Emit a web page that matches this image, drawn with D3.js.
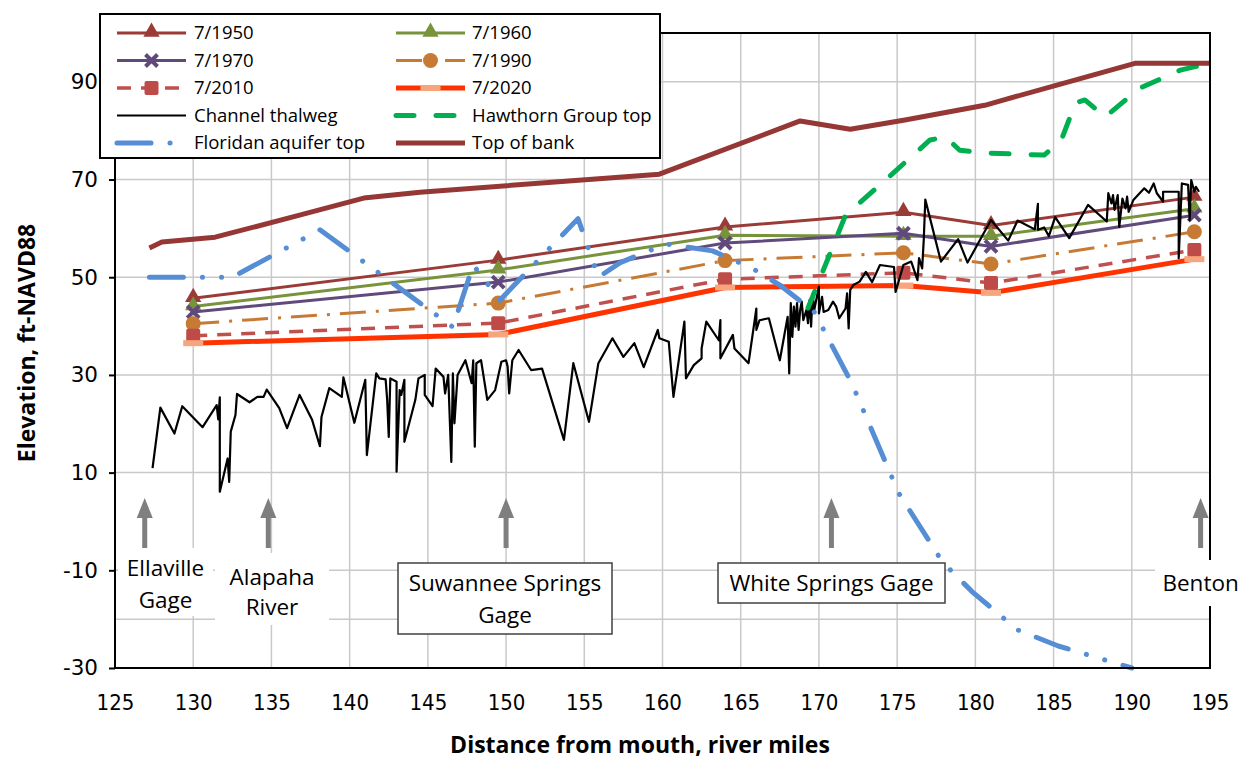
<!DOCTYPE html>
<meta charset="utf-8">
<style>
    body { margin: 0; background: #fff; }
    svg { display: block; }
    .grid line { stroke: #c9c9c9; stroke-width: 1.5; }
    .axis path, .axis line { stroke: #000; stroke-width: 2; }
    .y.axis text { font: 21.5px "DejaVu Sans", sans-serif; fill: #000; }
    .x.axis text { font: 22px "Liberation Sans Narrow", "DejaVu Sans Condensed", sans-serif; fill: #000; }
    .title { font: bold 23px "Open Sans", sans-serif; fill: #000; }
    .legend text { font: 18.5px "Open Sans", sans-serif; fill: #000; }
    .note text { font: 22.5px "Open Sans", sans-serif; fill: #000; }
</style>
<body>
<svg id="chart" width="1242" height="763"></svg>
<script src="https://cdn.jsdelivr.net/npm/d3@7/dist/d3.min.js"></script>
<script>
    // survey years share the same stations (river miles)
    var stationMiles = [130, 149.5, 164, 175.4, 181, 194];
    var elev1950 = [45.7, 53.5, 60.3, 63.3, 60.6, 66.4];
    var elev1960 = [44.0, 51.5, 58.6, 58.4, 58.4, 64.0];
    var elev1970 = [42.9, 49.0, 57.0, 59.0, 56.3, 62.7];
    var elev1990 = [40.5, 44.7, 53.4, 55.0, 52.7, 59.3];
    var elev2010 = [38.0, 40.6, 49.6, 50.9, 48.8, 55.6];
    var elev2020 = [36.5, 38.3, 47.9, 48.3, 46.8, 53.7];

    var thalwegMiles = [127.4, 127.9, 128.8, 129.3, 130.6, 131.5, 131.6, 131.7, 131.7, 132.2, 132.3, 132.4, 132.7, 132.8,
        133.6, 134.1, 134.5, 134.7, 135.5, 136.0, 136.8, 137.6, 138.1, 138.2, 138.7, 139.5, 139.6, 140.3, 141.0, 141.1,
        141.7, 141.9, 142.3, 142.4, 142.5, 142.6, 143.0, 143.0, 143.2, 143.3, 143.5, 143.5, 144.2, 144.4, 144.8, 144.8,
        145.3, 145.5, 146.0, 146.1, 146.3, 146.5, 146.6, 146.7, 146.9, 147.4, 147.8, 147.9, 148.0, 148.1, 148.4, 148.8,
        149.3, 149.7, 150.0, 150.1, 150.2, 150.4, 150.8, 151.6, 152.3, 153.7, 154.3, 155.3, 155.9, 156.8, 157.5, 158.2,
        158.8, 159.7, 159.8, 160.4, 160.7, 161.4, 161.5, 162.0, 162.5, 162.5, 162.8, 163.6, 163.7, 163.7, 164.5, 164.6,
        165.5, 166.0, 166.0, 166.2, 166.8, 167.5, 168.0, 168.1, 168.2, 168.3, 168.4, 168.5, 168.6, 168.7, 168.8, 168.9,
        169.0, 169.2, 169.3, 169.4, 169.5, 169.6, 169.7, 170.0, 170.0, 170.2, 170.3, 170.6, 170.9, 171.1, 171.3, 171.7,
        171.8, 171.9, 172.0, 172.2, 172.6, 173.0, 173.4, 173.9, 174.8, 174.9, 175.4, 175.9, 176.3, 176.4, 176.6, 176.7,
        176.8, 177.1, 177.8, 178.9, 179.5, 181.0, 182.1, 182.7, 183.8, 184.0, 184.0, 184.4, 184.7, 185.1, 186.0, 187.2,
        188.4, 188.5, 188.7, 188.8, 188.9, 189.1, 189.2, 189.4, 189.6, 189.7, 189.8, 190.1, 190.8, 191.1, 191.4, 191.6,
        192.0, 192.0, 193.0, 193.0, 193.2, 193.6, 193.7, 193.8, 194.0, 194.1, 194.3];
    var thalwegElev = [10.9, 23.3, 18.0, 23.6, 19.3, 23.8, 20.9, 25.4, 6.1, 12.9, 8.1, 18.4, 21.8, 26.1,
        24.4, 25.5, 25.5, 27.0, 23.2, 19.1, 25.9, 20.8, 15.4, 21.4, 27.3, 25.5, 29.5, 20.2, 29.0, 13.6,
        30.3, 29.3, 29.1, 24.9, 17.3, 29.3, 28.6, 10.2, 26.9, 25.9, 29.0, 16.3, 24.9, 29.3, 30.0, 25.9,
        23.6, 31.3, 29.6, 26.2, 30.0, 12.2, 30.3, 20.1, 30.0, 33.0, 28.3, 33.0, 15.3, 32.4, 33.0, 24.9,
        26.9, 32.7, 33.0, 31.7, 26.2, 33.0, 35.1, 31.0, 31.3, 16.7, 32.4, 20.4, 32.4, 37.5, 33.7, 36.5,
        31.6, 39.2, 37.5, 36.8, 25.5, 40.9, 29.3, 32.0, 33.4, 35.4, 40.9, 37.1, 41.2, 33.4, 38.2, 35.4,
        32.4, 43.6, 39.2, 41.2, 41.6, 33.0, 41.9, 30.3, 44.7, 37.8, 44.0, 39.9, 44.7, 39.2, 43.3, 45.0,
        41.2, 43.3, 40.6, 45.3, 39.9, 46.7, 43.3, 48.1, 42.6, 46.0, 42.9, 43.3, 45.0, 44.0, 41.6, 43.6,
        46.7, 39.5, 47.4, 48.4, 49.1, 51.1, 49.0, 52.5, 52.1, 47.0, 52.5, 53.2, 49.4, 53.9, 51.8, 57.6,
        65.9, 62.1, 53.2, 57.8, 53.0, 61.7, 57.5, 61.6, 59.8, 65.0, 59.7, 60.2, 58.4, 62.3, 58.0, 64.8,
        61.4, 67.2, 65.1, 66.8, 63.8, 66.8, 60.3, 66.1, 64.1, 66.5, 63.4, 65.8, 68.2, 67.3, 69.2, 67.2,
        65.5, 67.5, 67.5, 53.9, 69.2, 68.9, 61.7, 69.9, 67.5, 68.5, 67.5];

    var hawthornMiles = [169.3, 171.7, 173.9, 177.1, 178.1, 179.0, 180.9, 184.4, 185.5, 186.4, 187.0, 188.3, 190.5, 193.1, 195];
    var hawthornElev = [43.7, 62.7, 68.9, 78.1, 78.7, 76.0, 75.4, 75.0, 78.1, 85.7, 86.3, 82.8, 88.7, 92.4, 93.8];

    var floridanMiles = [127.2, 132.5, 138.1, 146.6, 147.9, 149.6, 154.6, 155.9, 157.3, 160.2, 163.2, 165.7, 167.5,
        169.7, 172.1, 175.1, 177.9, 179.8, 182.7, 185.3, 190.0];
    var floridanElev = [50.0, 50.0, 59.7, 39.8, 52.5, 45.3, 62.0, 50.0, 53.0, 56.8, 55.4, 51.9, 48.4,
        42.9, 28.3, 5.8, -8.3, -14.4, -22.2, -25.5, -30.0];

    var bankMiles = [127.2, 128.0, 131.4, 136.8, 140.9, 144.5, 159.8, 168.8, 172.0, 175.5, 180.6, 185.5, 190.2, 195];
    var bankElev = [56.0, 57.2, 58.2, 62.7, 66.2, 67.4, 71.1, 82.0, 80.3, 82.2, 85.2, 89.6, 93.8, 93.8];

    var xTicks = d3.range(125, 196, 5);
    var yTicks = [-30, -10, 10, 30, 50, 70, 90];
    var yGrid = [-20, -10, 10, 30, 50, 70, 90];

    var siteNames = [["Ellaville", "Gage"], ["Alapaha", "River"], ["Suwannee Springs", "Gage"], ["White Springs Gage"], ["Benton"]];
    var siteMiles = [126.9, 134.8, 150.0, 170.8, 194.4];

    var pairs = function (a, b) { return d3.zip(a, b); };

    // series table, legend order
    var series = [
        {name: "7/1950", data: pairs(stationMiles, elev1950), color: "#9a3b38", width: 3, marker: "tri"},
        {name: "7/1960", data: pairs(stationMiles, elev1960), color: "#77933c", width: 3, marker: "tri"},
        {name: "7/1970", data: pairs(stationMiles, elev1970), color: "#604a7b", width: 3, marker: "x"},
        {name: "7/1990", data: pairs(stationMiles, elev1990), color: "#c77a34", width: 3, dash: "26 10 3 10", marker: "circle"},
        {name: "7/2010", data: pairs(stationMiles, elev2010), color: "#c0504d", width: 3.5, dash: "14 10", marker: "square"},
        {name: "7/2020", data: pairs(stationMiles, elev2020), color: "#ff3300", width: 5, marker: "bar"},
        {name: "Channel thalweg", data: pairs(thalwegMiles, thalwegElev), color: "#000", width: 2.2},
        {name: "Hawthorn Group top", data: pairs(hawthornMiles, hawthornElev), color: "#00b050", width: 5, dash: "18 22", cap: "round"},
        {name: "Floridan aquifer top", data: pairs(floridanMiles, floridanElev), color: "#558ed5", width: 5, dash: "34 19 0.1 19 0.1 19", cap: "round"},
        {name: "Top of bank", data: pairs(bankMiles, bankElev), color: "#953735", width: 5}
    ];

    var plotL = 115, plotR = 1210, plotT = 33, plotB = 668;

    var x = d3.scaleLinear().domain([125, 195]).range([plotL, plotR]);
    var y = d3.scaleLinear().domain([-30, 100]).range([plotB, plotT]);

    var svg = d3.select("#chart");

    var grid = svg.append("g").attr("class", "grid");
    grid.selectAll("line.v").data(xTicks).enter().append("line")
        .attr("x1", x).attr("x2", x).attr("y1", plotT).attr("y2", plotB);
    grid.selectAll("line.h").data(yGrid).enter().append("line")
        .attr("x1", plotL).attr("x2", plotR).attr("y1", y).attr("y2", y);

    var line = d3.line().x(function (d) { return x(d[0]); }).y(function (d) { return y(d[1]); });

    function drawMarker(g, type, color, cx, cy) {
        if (type === "tri") {
            g.append("path").attr("d", d3.symbol().type(d3.symbolTriangle).size(115)())
                .attr("transform", "translate(" + cx + "," + (cy - 1) + ")").attr("fill", color);
        } else if (type === "x") {
            g.append("path").attr("d", "M-6,-6L6,6M-6,6L6,-6")
                .attr("transform", "translate(" + cx + "," + cy + ")")
                .attr("stroke", color).attr("stroke-width", 4).attr("fill", "none");
        } else if (type === "circle") {
            g.append("circle").attr("cx", cx).attr("cy", cy).attr("r", 7.5).attr("fill", color);
        } else if (type === "square") {
            g.append("rect").attr("x", cx - 7).attr("y", cy - 7).attr("width", 14).attr("height", 14)
                .attr("rx", 2).attr("fill", "#be4b48");
        } else if (type === "bar") {
            g.append("rect").attr("x", cx - 10).attr("y", cy - 3).attr("width", 20).attr("height", 6)
                .attr("fill", "#f7a57c");
        }
    }

    var plot = svg.append("g").attr("class", "series");
    series.forEach(function (s) {
        plot.append("path").datum(s.data)
            .attr("d", line)
            .attr("fill", "none")
            .attr("stroke", s.color)
            .attr("stroke-width", s.width)
            .attr("stroke-linejoin", "round")
            .attr("stroke-linecap", s.cap || "butt")
            .attr("stroke-dasharray", s.dash || null);
        if (s.marker) {
            var mg = plot.append("g");
            s.data.forEach(function (d) { drawMarker(mg, s.marker, s.color, x(d[0]), y(d[1])); });
        }
    });

    // plot border
    svg.append("rect").attr("x", plotL).attr("y", plotT).attr("width", plotR - plotL).attr("height", plotB - plotT)
        .attr("fill", "none").attr("stroke", "#000").attr("stroke-width", 2);

    // plain hyphen for negatives, as in the original
    svg.append("g").attr("class", "y axis")
        .attr("transform", "translate(" + plotL + ",0)")
        .call(d3.axisLeft(y).tickValues(yTicks).tickSize(6).tickPadding(11).tickFormat(function (d) { return String(d); }))
        .call(function (g) { g.select(".domain").remove(); });

    svg.append("g").attr("class", "x axis")
        .attr("transform", "translate(0," + plotB + ")")
        .call(d3.axisBottom(x).tickValues(xTicks).tickSize(0).tickPadding(26))
        .call(function (g) { g.select(".domain").remove(); });

    // site arrows and labels
    var notes = svg.append("g").attr("class", "note");
    siteMiles.forEach(function (m, i) {
        var cx = x(m);
        notes.append("rect").attr("x", cx - 2.5).attr("y", 514).attr("width", 5).attr("height", 34).attr("fill", "#7f7f7f");
        notes.append("path").attr("d", "M" + (cx - 8) + ",518L" + cx + ",498L" + (cx + 8) + ",518Z").attr("fill", "#7f7f7f");
    });
    var boxes = [
        {x0: 118, x1: 213, y0: 548, y1: 616, border: false, ty: [568, 600]},
        {x0: 215, x1: 329, y0: 553, y1: 625, border: false, ty: [577, 607]},
        {x0: 398, x1: 612, y0: 563, y1: 634, border: true, ty: [583, 615]},
        {x0: 718, x1: 945, y0: 563, y1: 603, border: true, ty: [583]},
        {x0: 1155, x1: 1242, y0: 560, y1: 606, border: false, ty: [583]}
    ];
    boxes.forEach(function (b, i) {
        notes.append("rect").attr("x", b.x0).attr("y", b.y0).attr("width", b.x1 - b.x0).attr("height", b.y1 - b.y0)
            .attr("fill", "#fff").attr("stroke", b.border ? "#404040" : "none").attr("stroke-width", 1.5);
        siteNames[i].forEach(function (t, j) {
            notes.append("text").attr("x", i === 4 ? x(siteMiles[i]) : (b.x0 + b.x1) / 2).attr("y", b.ty[j])
                .attr("dy", "0.35em").attr("text-anchor", "middle").text(t);
        });
    });

    // axis titles
    svg.append("text").attr("class", "title").attr("x", 640).attr("y", 745)
        .attr("text-anchor", "middle").attr("dy", "0.35em").text("Distance from mouth, river miles");
    svg.append("text").attr("class", "title")
        .attr("transform", "translate(27,343) rotate(-90)")
        .attr("text-anchor", "middle").attr("dy", "0.35em").text("Elevation, ft-NAVD88");

    // legend
    var legend = svg.append("g").attr("class", "legend");
    legend.append("rect").attr("x", 100).attr("y", 14).attr("width", 560).attr("height", 144)
        .attr("fill", "#fff").attr("stroke", "#000").attr("stroke-width", 2);
    series.forEach(function (s, i) {
        var col = i % 2, row = Math.floor(i / 2);
        var lx = col === 0 ? 117 : 396, ly = 33 + row * 27.5;
        var g = legend.append("g");
        g.append("line").attr("x1", lx).attr("x2", lx + 69).attr("y1", ly).attr("y2", ly)
            .attr("stroke", s.color).attr("stroke-width", s.width)
            .attr("stroke-linecap", s.cap || "butt")
            .attr("stroke-dasharray", s.dash || null);
        if (s.marker) drawMarker(g, s.marker, s.color, lx + 34.5, ly);
        g.append("text").attr("x", col === 0 ? 194 : 472).attr("y", ly).attr("dy", "0.35em").text(s.name);
    });
</script>
</body>
